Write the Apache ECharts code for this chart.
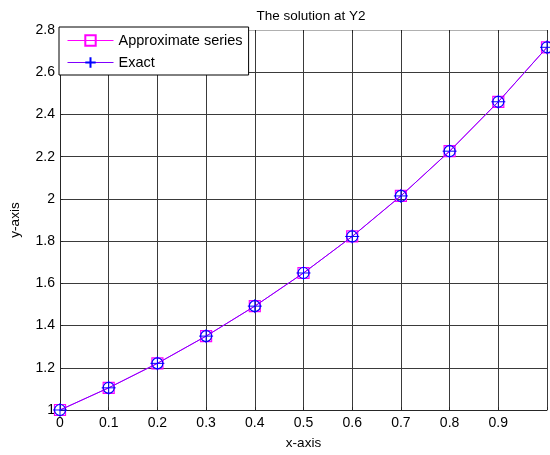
<!DOCTYPE html>
<html><head><meta charset="utf-8">
<script src="https://cdn.jsdelivr.net/npm/echarts@6/dist/echarts.min.js"></script>
<style>html,body{margin:0;padding:0;background:#fff}#c{width:550px;height:455px}</style>
</head><body><div id="c"></div>
<script>
var xValues = [0, 0.1, 0.2, 0.3, 0.4, 0.5, 0.6, 0.7, 0.8, 0.9, 1.0];
var approxValues = [1.000, 1.105, 1.221, 1.350, 1.492, 1.649, 1.822, 2.014, 2.226, 2.460, 2.718];
var exactValues = [1.000, 1.105, 1.221, 1.350, 1.492, 1.649, 1.822, 2.014, 2.226, 2.460, 2.718];
var seriesNames = ['Approximate series', 'Exact'];
var titleText = 'The solution at Y2';
var xLabel = 'x-axis', yLabel = 'y-axis';

function pairs(xs, ys){ return xs.map(function(x,i){return [x, ys[i]];}); }
var FONT = 'Liberation Sans, Arial, sans-serif';
var chart = echarts.init(document.getElementById('c'), null, {renderer:'canvas'});
var plusPath = 'path://M-1,0L1,0M0,-1L0,1';
var circlePath = 'path://M0,-1A1,1 0 1,1 0,1A1,1 0 1,1 0,-1Z';
function fmt(v){ return (Math.round(v*10)/10).toString(); }
chart.setOption({
  animation:false,
  backgroundColor:'#fff',
  title:{text:titleText, left:306, top:4, textAlign:'center',
    textStyle:{fontFamily:FONT, fontSize:13.5, fontWeight:'normal', color:'#000'}},
  grid:{left:60, right:1, top:30, bottom:43},
  legend:{
    orient:'vertical', left:59, top:27, data:seriesNames,
    itemWidth:46, itemHeight:13, itemGap:7,
    padding:[6,6,5,8], backgroundColor:'#fff', borderColor:'#000', borderWidth:1, borderRadius:0,
    lineStyle:{width:1},
    textStyle:{fontFamily:FONT, fontSize:14.5, color:'#000'}
  },
  xAxis:[{
    type:'value', min:0, max:1, interval:0.1, position:'bottom',
    name:xLabel, nameLocation:'middle', nameGap:26,
    nameTextStyle:{fontFamily:FONT, fontSize:13.5, color:'#000'},
    axisLine:{show:true, onZero:false, lineStyle:{color:'#262626', width:1}},
    axisTick:{show:true, inside:true, length:3, lineStyle:{color:'#262626'}},
    axisLabel:{fontFamily:FONT, fontSize:14, color:'#000', margin:6,
      formatter:function(v){ return v>=0.999 ? '' : fmt(v); }},
    splitLine:{show:true, lineStyle:{color:'#3a3a3a', width:1}}
  },{
    type:'value', min:0, max:1, interval:0.1, position:'top',
    axisLine:{show:true, onZero:false, lineStyle:{color:'#b0b0b0', width:1}},
    axisTick:{show:true, inside:true, length:3, lineStyle:{color:'#262626'}},
    axisLabel:{show:false}, splitLine:{show:false}
  }],
  yAxis:[{
    type:'value', min:1, max:2.8, interval:0.2,
    name:yLabel, nameLocation:'middle', nameGap:38, nameRotate:90,
    nameTextStyle:{fontFamily:FONT, fontSize:13.5, color:'#000'},
    axisLine:{show:true, onZero:false, lineStyle:{color:'#262626', width:1}},
    axisTick:{show:true, inside:true, length:3, lineStyle:{color:'#262626'}},
    axisLabel:{fontFamily:FONT, fontSize:14, color:'#000', margin:5, formatter:fmt},
    splitLine:{show:true, lineStyle:{color:'#3a3a3a', width:1}}
  }],
  series:[{
    name:seriesNames[0], type:'line', data:pairs(xValues, approxValues),
    symbol:'rect', symbolSize:11, showAllSymbol:true,
    lineStyle:{color:'#ff00ff', width:1},
    itemStyle:{color:'rgba(0,0,0,0)', borderColor:'#ff00ff', borderWidth:1.2},
    z:3
  },{
    name:'circ', type:'line', data:pairs(xValues, exactValues),
    symbol:circlePath, symbolSize:11, showAllSymbol:true,
    lineStyle:{width:0, opacity:0},
    itemStyle:{color:'rgba(0,0,0,0)', borderColor:'#0000ff', borderWidth:1.2},
    z:4
  },{
    name:seriesNames[1], type:'line', data:pairs(xValues, exactValues),
    symbol:plusPath, symbolSize:14, showAllSymbol:true,
    lineStyle:{color:'#7f00ff', width:1},
    itemStyle:{color:'rgba(0,0,0,0)', borderColor:'#0000ff', borderWidth:1},
    z:5
  }]
});
</script></body></html>
